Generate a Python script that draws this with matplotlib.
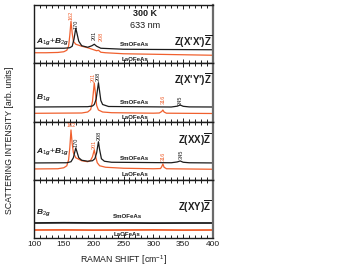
import matplotlib
matplotlib.use("Agg")
import matplotlib.pyplot as plt
from matplotlib.ticker import MultipleLocator

plt.rcParams['font.family'] = ['Liberation Sans', 'DejaVu Sans']
plt.rcParams['mathtext.fontset'] = 'custom'
plt.rcParams['mathtext.rm'] = 'Liberation Sans'
plt.rcParams['mathtext.it'] = 'Liberation Sans:italic:bold'
plt.rcParams['mathtext.bf'] = 'Liberation Sans:bold'

BLACK = '#1c1c1c'
ORANGE = '#f0602e'

# ---- data (Raman shift in cm^-1, intensity in arb. units per panel) ----
p1_sm_x = [100, 150, 160, 164, 167, 170, 172, 175, 180, 190, 197, 201, 205, 212, 250, 300, 400]
p1_sm_y = [15, 15, 15.5, 17, 24, 35, 30, 22, 17.5, 16, 17.5, 19, 17, 15, 14, 13.8, 13.5]
p1_la_x = [100, 120, 140, 150, 155, 158, 160, 162, 164, 166, 170, 175, 180, 190, 200, 205, 208, 212, 220, 250, 300, 350, 400]
p1_la_y = [10.5, 10.5, 10.8, 11.5, 13, 17, 28, 42, 30, 22, 19, 18, 17, 15.5, 13.5, 12.5, 13, 11, 10.5, 9.5, 9, 8.5, 8]

p2_sm_x = [100, 190, 198, 201, 204, 206, 208, 210, 212, 215, 225, 330, 340, 345, 350, 360, 400]
p2_sm_y = [14.5, 14.8, 15.5, 17, 22, 30, 38.8, 30, 21, 17, 15, 14.5, 15.3, 16.5, 15.2, 14.6, 14.5]
p2_la_x = [100, 180, 190, 195, 198, 201, 203, 205, 208, 215, 230, 300, 310, 314, 316, 318, 322, 400]
p2_la_y = [8.2, 8.5, 9.5, 12, 20, 38.5, 28, 16, 11.5, 9.5, 8.8, 8.3, 8.5, 10, 11.5, 9.5, 8.3, 8]

p3_sm_x = [100, 155, 162, 166, 170, 172, 175, 180, 190, 198, 202, 205, 208, 210, 213, 218, 230, 330, 340, 345, 350, 360, 400]
p3_sm_y = [16.8, 17, 18, 22, 31.8, 28, 22, 19.5, 18.5, 19, 21, 27, 38, 30, 21, 18.5, 17.5, 17, 17.8, 18.8, 17.5, 17, 16.8]
p3_la_x = [100, 140, 150, 155, 158, 160, 162, 164, 166, 170, 180, 190, 195, 198, 201, 203, 206, 210, 220, 250, 300, 312, 314, 316, 318, 322, 400]
p3_la_y = [10.8, 11, 12, 14, 20, 32, 49.8, 36, 27, 22, 19, 18, 19.5, 23, 29.8, 24, 17, 14, 12.5, 11.5, 11, 11.2, 13, 15.8, 12.5, 11, 10.5]

p4_sm_x = [100, 150, 200, 250, 300, 350, 400]
p4_sm_y = [15, 15.2, 15, 15.1, 14.9, 15, 15]
p4_la_x = [100, 150, 200, 250, 300, 350, 400]
p4_la_y = [8, 8.1, 7.9, 8, 8.1, 7.9, 8]

sym_labels = [r'$\mathit{A}_{1g}$+$\mathit{B}_{2g}$', r'$\mathit{B}_{1g}$',
              r'$\mathit{A}_{1g}$+$\mathit{B}_{1g}$', r'$\mathit{B}_{2g}$']
geom_labels = [r"Z(X'X')$\overline{\mathbf{Z}}$", r"Z(X'Y')$\overline{\mathbf{Z}}$",
               r"Z(XX)$\overline{\mathbf{Z}}$", r"Z(XY)$\overline{\mathbf{Z}}$"]
xticks = [100, 150, 200, 250, 300, 350, 400]

panels = [
    (p1_sm_x, p1_sm_y, p1_la_x, p1_la_y),
    (p2_sm_x, p2_sm_y, p2_la_x, p2_la_y),
    (p3_sm_x, p3_sm_y, p3_la_x, p3_la_y),
    (p4_sm_x, p4_sm_y, p4_la_x, p4_la_y),
]
line_w = [0.9, 0.9, 0.9, 1.3]

# peak labels: (text, x, y, color, rotation)
peak_labels = [
    [('162', 162, 48, ORANGE, 90), ('170', 170.5, 39, BLACK, 90),
     ('201', 201, 27.7, BLACK, 90), ('208', 212, 27, ORANGE, 90)],
    [('201', 199.5, 44, ORANGE, 90), ('208', 207.5, 45.5, BLACK, 90),
     ('316', 316, 22.5, ORANGE, 90), ('345', 345, 21, BLACK, 90)],
    [('162', 163, 54.2, ORANGE, 0), ('170', 170.5, 37.7, BLACK, 90),
     ('201', 201, 35.7, ORANGE, 90), ('208', 209, 44.7, BLACK, 90),
     ('316', 316, 23.7, ORANGE, 90), ('345', 346, 25.7, BLACK, 90)],
    [],
]
sm_pos = [(269, 18.3), (269, 19.5), (269, 21.5), (256, 21)]
la_pos = [(269, 3.3), (269, 4.5), (269, 4.8), (256, 4)]
sym_pos = [22, 23.5, 28, 25.3]
geom_pos = [21.3, 41.5, 39.7, 31]

W, H = 346, 268
fig = plt.figure(figsize=(W / 100, H / 100), dpi=100)
left_px, right_px, top_px, bot_px = 34, 213, 5, 238
ph = (bot_px - top_px) / 4.0

for i, (sx, sy, lx, ly) in enumerate(panels):
    t = top_px + i * ph
    ax = fig.add_axes([left_px / W, 1 - (t + ph) / H, (right_px - left_px) / W, ph / H])
    ax.plot(lx, ly, color=ORANGE, lw=line_w[i])
    ax.plot(sx, sy, color=BLACK, lw=line_w[i])
    ax.set_xlim(100, 400)
    ax.set_ylim(0, ph)
    ax.set_yticks([])
    ax.xaxis.set_major_locator(MultipleLocator(50))
    ax.xaxis.set_minor_locator(MultipleLocator(10))
    ax.tick_params(axis='x', which='both', direction='in', top=True, bottom=True,
                   width=0.7, colors=BLACK)
    ax.tick_params(axis='x', which='major', length=3)
    ax.tick_params(axis='x', which='minor', length=2)
    for s in ['left', 'top', 'bottom']:
        ax.spines[s].set_linewidth(1.0)
        ax.spines[s].set_color(BLACK)
    ax.spines['right'].set_linewidth(1.6)
    ax.spines['right'].set_color('#6a6a6a')
    if i < 3:
        ax.set_xticklabels([])
    else:
        ax.set_xticks(xticks)
        ax.set_xticklabels([str(v) for v in xticks], fontsize=6, color=BLACK)
        ax.tick_params(axis='x', which='major', pad=2)

    for (txt, x, y, c, r) in peak_labels[i]:
        ax.text(x, y, txt, color=c, fontsize=4, rotation=r, ha='center', va='center',
                clip_on=False)
    ax.text(sm_pos[i][0], sm_pos[i][1], 'SmOFeAs', fontsize=4.4, fontweight='bold',
            color=BLACK, ha='center', va='center')
    ax.text(la_pos[i][0], la_pos[i][1], 'LaOFeAs', fontsize=4.4, fontweight='bold',
            color=BLACK, ha='center', va='center')
    ax.text(104, sym_pos[i], sym_labels[i], fontsize=6, color=BLACK, ha='left', va='center')
    ax.text(398, geom_pos[i], geom_labels[i], fontsize=7, fontweight='bold', color=BLACK,
            ha='right', va='center')
    if i == 0:
        ax.text(286, 49.3, '300 K', fontsize=6.5, fontweight='bold', color=BLACK,
                ha='center', va='center')
        ax.text(286, 37.3, '633 nm', fontsize=6.5, color=BLACK, ha='center', va='center')

fig.text(10 / W, 1 - 140 / H, 'SCATTERING INTENSITY [arb. units]', rotation=90,
         fontsize=6.3, ha='center', va='center', color=BLACK)
fig.text(123.5 / W, 1 - 260 / H, r'RAMAN SHIFT [cm$^{-1}$]', fontsize=6.3,
         ha='center', va='center', color=BLACK)

fig.savefig('out.png', dpi=100)
